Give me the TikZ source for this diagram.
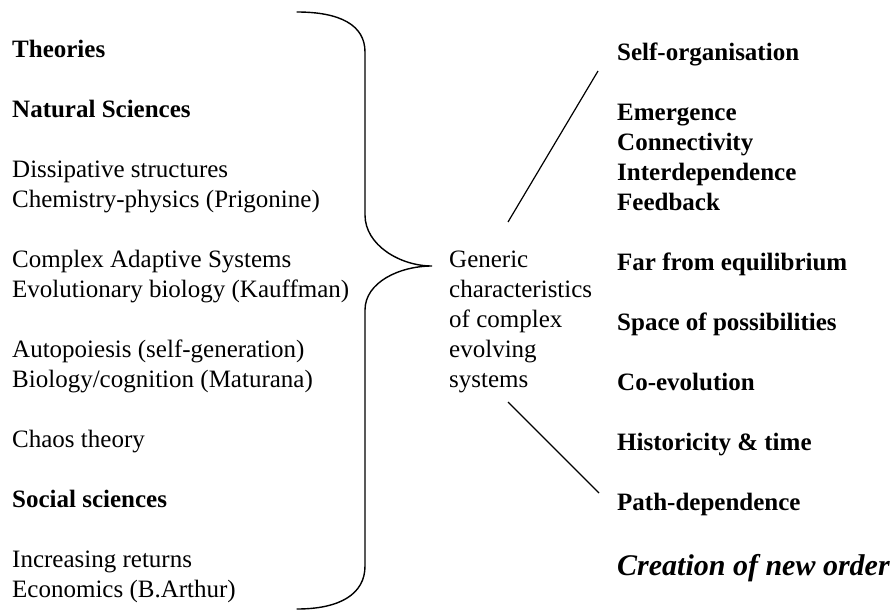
\documentclass[tikz,border=0pt]{standalone}
\usepackage{fontspec}
\setmainfont{Liberation Serif}
\begin{document}
\begin{tikzpicture}[x=1pt,y=-1pt,
  txt/.style={anchor=base west,inner sep=0pt,font=\fontsize{25}{30}\selectfont},
  btxt/.style={txt,font=\fontsize{25}{30}\selectfont\bfseries},
  ln/.style={line width=1.4pt,line cap=round}]
\useasboundingbox (0,0) rectangle (893,613);
% left column
\node[btxt] (l1) at (12,57) {Theories};
\node[btxt] (l2) at (12,117) {Natural Sciences};
\node[txt] (l3) at (12,177) {Dissipative structures};
\node[txt] (l4) at (12,207) {Chemistry-physics (Prigonine)};
\node[txt] (l5) at (12,267) {Complex Adaptive Systems};
\node[txt] (l6) at (12,297) {Evolutionary biology (Kauffman)};
\node[txt] (l7) at (12,357) {Autopoiesis (self-generation)};
\node[txt] (l8) at (12,387) {Biology/cognition (Maturana)};
\node[txt] (l9) at (12,447) {Chaos theory};
\node[btxt] (l10) at (12,507) {Social sciences};
\node[txt] (l11) at (12,567) {Increasing returns};
\node[txt] (l12) at (12,597) {Economics (B.Arthur)};
% brace
\coordinate (bt) at (297,12);
\coordinate (tip) at (432,266);
\coordinate (bb) at (297,609);
\draw[ln] (bt) .. controls (340,12) and (365,25) .. (365,52) -- (365,215)
  .. controls (365,245) and (400,266) .. (tip)
  .. controls (400,266) and (365,282) .. (365,310) -- (365,566)
  .. controls (365,594) and (340,609) .. (bb);
% center
\node[txt] (c1) at (449,267) {Generic};
\node[txt] (c2) at (449,297) {characteristics};
\node[txt] (c3) at (449,327) {of complex};
\node[txt] (c4) at (449,357) {evolving};
\node[txt] (c5) at (449,387) {systems};
% right column
\node[btxt] (r1) at (617,60) {Self-organisation};
\node[btxt] (r2) at (617,120) {Emergence};
\node[btxt] (r3) at (617,150) {Connectivity};
\node[btxt] (r4) at (617,180) {Interdependence};
\node[btxt] (r5) at (617,210) {Feedback};
\node[btxt] (r6) at (617,270) {Far from equilibrium};
\node[btxt] (r7) at (617,330) {Space of possibilities};
\node[btxt] (r8) at (617,390) {Co-evolution};
\node[btxt] (r9) at (617,450) {Historicity \& time};
\node[btxt] (r10) at (617,510) {Path-dependence};
\node[txt,font=\fontsize{30}{36}\selectfont\bfseries\itshape] (r11) at (617,575) {Creation of new order};
% connectors
\coordinate (u1) at (508,222);
\coordinate (u2) at (598,71);
\coordinate (d1) at (508,402);
\coordinate (d2) at (599,493);
\draw[line width=1.2pt] (u1) -- (u2);
\draw[line width=1.2pt] (d1) -- (d2);
\end{tikzpicture}
\end{document}
